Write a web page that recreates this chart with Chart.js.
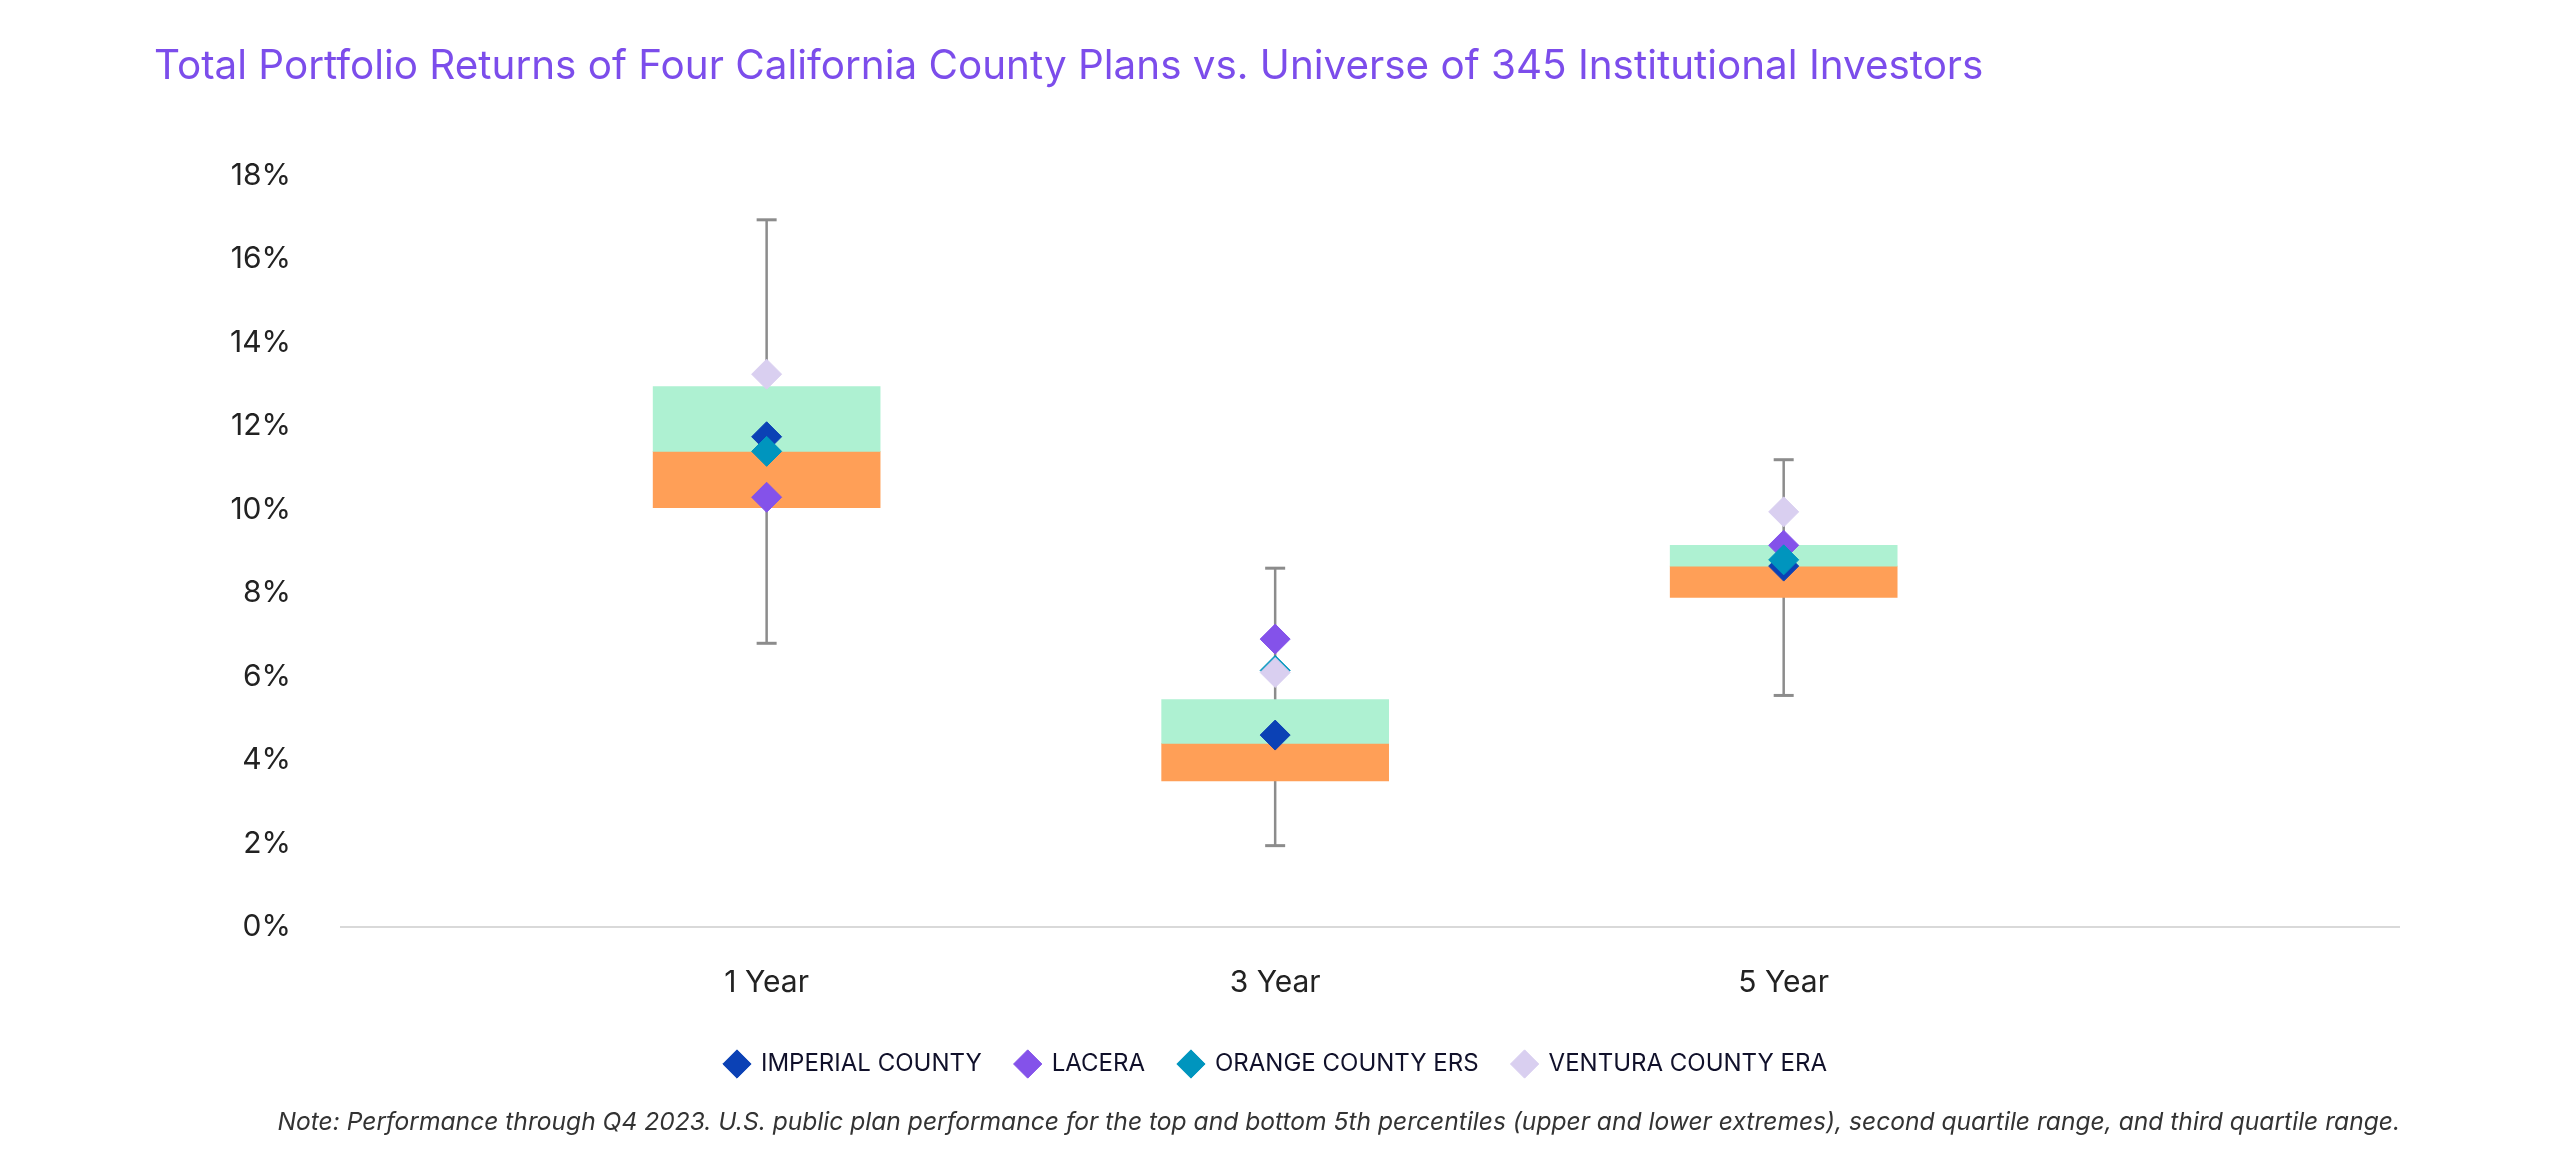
<!DOCTYPE html>
<html lang="en">

<head>
  <meta charset="UTF-8">
  <title>Total Portfolio Returns</title>
  <script src="https://cdn.jsdelivr.net/npm/chart.js"></script>
  <style>
    body {
      margin: 0;
      background: #fff;
      font-family: Inter, "Noto Sans", sans-serif;
    }

    .pagina {
      position: relative;
      width: 2550px;
      height: 1172px;
      overflow: hidden;
    }

    .titulo {
      position: absolute;
      left: 154px;
      top: 42px;
      font-size: 40.4px;
      line-height: 46px;
      color: #7c4deb;
      white-space: nowrap;
    }

    .nota {
      position: absolute;
      right: 150px;
      top: 1106px;
      font-size: 24.6px;
      line-height: 30px;
      font-style: italic;
      color: #333;
      white-space: nowrap;
    }

    .chart-container {
      position: absolute;
      left: 0;
      top: 0;
      width: 2550px;
      height: 1172px;
    }
  </style>
</head>

<body>
  <div class="pagina">
    <div class="chart-container">
      <canvas id="grafico"></canvas>
    </div>
    <div class="titulo">Total Portfolio Returns of Four California County Plans vs. Universe of 345 Institutional Investors</div>
    <div class="nota">Note: Performance through Q4 2023. U.S. public plan performance for the top and bottom 5th percentiles (upper and lower extremes), second quartile range, and third quartile range.</div>
  </div>

  <script>
    // periodos
    const categorias = ['1 Year', '3 Year', '5 Year'];

    // universo: extremos (5th / 95th) y cuartiles
    const extremoBajo = [6.8, 1.95, 5.55];
    const extremoAlto = [16.95, 8.6, 11.2];
    const cuartilBajo = [10.05, 3.5, 7.9];
    const mediana = [11.4, 4.4, 8.65];
    const cuartilAlto = [12.95, 5.45, 9.15];

    // planes
    const imperial = [11.75, 4.6, 8.65];
    const lacera = [10.3, 6.9, 9.15];
    const orangeCounty = [11.4, 6.15, 8.8];
    const ventura = [13.25, 6.1, 9.95];

    const ticksY = [0, 2, 4, 6, 8, 10, 12, 14, 16, 18];

    const fuente = 'Inter, "Noto Sans", sans-serif';

    function rango(bajo, alto) {
      return categorias.map((c, i) => ({ x: i, y: [bajo[i], alto[i]] }));
    }

    function puntos(valores) {
      return categorias.map((c, i) => ({ x: i, y: valores[i] }));
    }

    // bigotes: dos puntos por periodo y un hueco entre ellos
    const bigotes = [];
    categorias.forEach((c, i) => {
      bigotes.push({ x: i, y: extremoAlto[i] });
      bigotes.push({ x: i, y: extremoBajo[i] });
      bigotes.push({ x: i, y: null });
    });

    function plan(nombre, valores, color, orden) {
      return {
        type: 'scatter',
        label: nombre,
        data: puntos(valores),
        backgroundColor: color,
        borderColor: color,
        pointStyle: 'rectRot',
        pointRadius: 15,
        pointBorderWidth: 1,
        order: orden
      };
    }

    new Chart(document.getElementById('grafico'), {
      type: 'bar',
      data: {
        datasets: [
          {
            type: 'line',
            label: 'extremos',
            data: bigotes,
            borderColor: '#8c8c8c',
            borderWidth: 2.5,
            pointStyle: 'line',
            pointRadius: 10,
            pointBorderWidth: 3,
            pointBorderColor: '#8c8c8c',
            spanGaps: false,
            order: 10
          },
          {
            label: 'tercer cuartil',
            data: rango(cuartilBajo, mediana),
            backgroundColor: '#ff9f57',
            barThickness: 227,
            grouped: false,
            order: 9
          },
          {
            label: 'segundo cuartil',
            data: rango(mediana, cuartilAlto),
            backgroundColor: '#aef1d2',
            barThickness: 227,
            grouped: false,
            order: 8
          },
          plan('IMPERIAL COUNTY', imperial, '#0b41b5', 4),
          plan('LACERA', lacera, '#8452ea', 3),
          plan('ORANGE COUNTY ERS', orangeCounty, '#0095be', 2),
          plan('VENTURA COUNTY ERA', ventura, '#d9cff0', 1)
        ]
      },
      options: {
        responsive: true,
        maintainAspectRatio: false,
        animation: false,
        layout: {
          padding: { left: 153, right: 151, top: 176, bottom: 86 }
        },
        scales: {
          x: {
            type: 'linear',
            offset: false,
            min: -0.837,
            max: 3.21,
            grid: { display: false, drawTicks: false },
            border: { display: true, color: '#d9d9d9', width: 2 },
            afterBuildTicks: (scale) => {
              scale.ticks = categorias.map((c, i) => ({ value: i }));
            },
            afterFit: (scale) => {
              scale.height -= 21;
            },
            ticks: {
              padding: 38,
              color: '#222',
              font: { family: fuente, size: 30 },
              callback: (v) => categorias[v]
            }
          },
          y: {
            min: 0,
            max: 18,
            grid: { display: false, drawTicks: false },
            border: { display: false },
            afterBuildTicks: (scale) => {
              scale.ticks = ticksY.map(v => ({ value: v }));
            },
            afterFit: (scale) => {
              scale.width = 188;
            },
            ticks: {
              padding: 50,
              color: '#222',
              font: { family: fuente, size: 30 },
              callback: (v) => v + '%'
            }
          }
        },
        plugins: {
          tooltip: { enabled: false },
          legend: {
            position: 'bottom',
            labels: {
              usePointStyle: true,
              boxWidth: 24,
              boxHeight: 20,
              padding: 34,
              color: '#10102a',
              font: { family: fuente, size: 24 },
              filter: (item) => item.datasetIndex >= 3,
              sort: (a, b) => a.datasetIndex - b.datasetIndex
            }
          }
        }
      }
    });
  </script>

</body>

</html>
